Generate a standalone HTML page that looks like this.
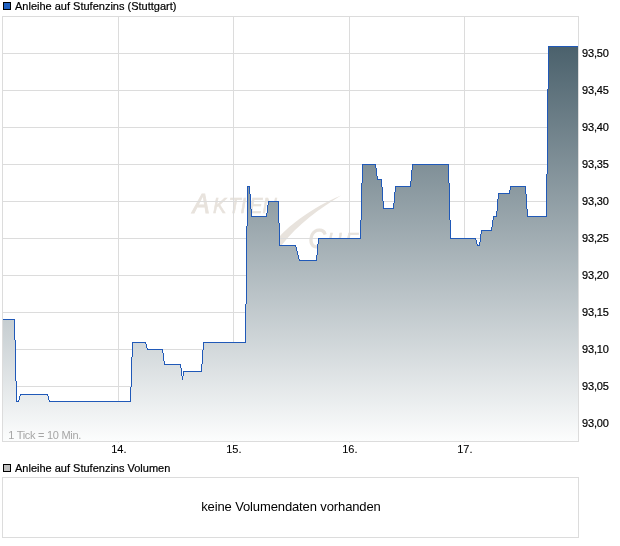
<!DOCTYPE html>
<html lang="de">
<head>
<meta charset="utf-8">
<title>Anleihe auf Stufenzins (Stuttgart)</title>
<style>
html,body{margin:0;padding:0;background:#fff;}
body{width:620px;height:546px;overflow:hidden;}
svg{display:block;}
text{font-family:"Liberation Sans",Arial,Helvetica,sans-serif;font-size:11px;fill:#000;stroke:#000;stroke-width:0.2px;}
.c{shape-rendering:crispEdges;}
</style>
</head>
<body>
<svg width="620" height="546" viewBox="0 0 620 546">
<defs>
<linearGradient id="g" gradientUnits="userSpaceOnUse" x1="0" y1="16" x2="0" y2="441">
<stop offset="0" stop-color="#3d5561"/>
<stop offset="1" stop-color="#fcfdfd"/>
</linearGradient>
</defs>
<rect width="620" height="546" fill="#fff"/>
<!-- legend -->
<rect class="c" x="3.5" y="2.5" width="7" height="7" fill="#2060c0" stroke="#000" stroke-width="1"/>
<text x="15" y="10">Anleihe auf Stufenzins (Stuttgart)</text>
<!-- plot -->
<!-- watermark -->
<g id="wm" fill="#e8e3dd"><text transform="translate(0 213.2) scale(0.9 1)" y="0" style="fill:#e8e3dd;stroke:#e8e3dd;stroke-width:0.6px;font-style:italic;font-size:22.2px"><tspan x="214.2" style="font-size:28.3px;stroke-width:1.0px">A</tspan><tspan x="236.7 254.0 267.3 277.0 291.6">KTIEN</tspan></text><text transform="translate(0 247.5) scale(0.9 1)" y="0" style="fill:#e8e3dd;stroke:#e8e3dd;stroke-width:0.6px;font-style:italic;font-size:22.2px"><tspan x="342.7" style="font-size:26.8px;stroke-width:1.0px">C</tspan><tspan x="363.6 383.6 398.3 414.4">HECK</tspan></text><path stroke="none" d="M262 262C268 250 274 243 279 237.3C290 224.8 312 207.6 341 195.6C320 208.5 298 224 281 246C276 252 270 258 262 262Z"/></g>
<g class="c" fill="#dcdcdc"><rect x="118" y="16" width="1" height="425"/><rect x="233" y="16" width="1" height="425"/><rect x="349" y="16" width="1" height="425"/><rect x="464" y="16" width="1" height="425"/><rect x="2" y="53" width="576" height="1"/><rect x="2" y="90" width="576" height="1"/><rect x="2" y="127" width="576" height="1"/><rect x="2" y="164" width="576" height="1"/><rect x="2" y="201" width="576" height="1"/><rect x="2" y="238" width="576" height="1"/><rect x="2" y="275" width="576" height="1"/><rect x="2" y="312" width="576" height="1"/><rect x="2" y="349" width="576" height="1"/><rect x="2" y="386" width="576" height="1"/><rect x="2" y="423" width="576" height="1"/></g>
<path class="c" d="M3 441L3 319L4 319L4 319L5 319L5 319L6 319L6 319L7 319L7 319L8 319L8 319L9 319L9 319L10 319L10 319L11 319L11 319L12 319L12 319L13 319L13 319L14 319L14 319L15 319L15 340L16 340L16 381L17 381L17 401L18 401L18 400L19 400L19 396L20 396L20 394L21 394L21 394L22 394L22 394L23 394L23 394L24 394L24 394L25 394L25 394L26 394L26 394L27 394L27 394L28 394L28 394L29 394L29 394L30 394L30 394L31 394L31 394L32 394L32 394L33 394L33 394L34 394L34 394L35 394L35 394L36 394L36 394L37 394L37 394L38 394L38 394L39 394L39 394L40 394L40 394L41 394L41 394L42 394L42 394L43 394L43 394L44 394L44 394L45 394L45 394L46 394L46 394L47 394L47 394L48 394L48 396L49 396L49 400L50 400L50 401L51 401L51 401L52 401L52 401L53 401L53 401L54 401L54 401L55 401L55 401L56 401L56 401L57 401L57 401L58 401L58 401L59 401L59 401L60 401L60 401L61 401L61 401L62 401L62 401L63 401L63 401L64 401L64 401L65 401L65 401L66 401L66 401L67 401L67 401L68 401L68 401L69 401L69 401L70 401L70 401L71 401L71 401L72 401L72 401L73 401L73 401L74 401L74 401L75 401L75 401L76 401L76 401L77 401L77 401L78 401L78 401L79 401L79 401L80 401L80 401L81 401L81 401L82 401L82 401L83 401L83 401L84 401L84 401L85 401L85 401L86 401L86 401L87 401L87 401L88 401L88 401L89 401L89 401L90 401L90 401L91 401L91 401L92 401L92 401L93 401L93 401L94 401L94 401L95 401L95 401L96 401L96 401L97 401L97 401L98 401L98 401L99 401L99 401L100 401L100 401L101 401L101 401L102 401L102 401L103 401L103 401L104 401L104 401L105 401L105 401L106 401L106 401L107 401L107 401L108 401L108 401L109 401L109 401L110 401L110 401L111 401L111 401L112 401L112 401L113 401L113 401L114 401L114 401L115 401L115 401L116 401L116 401L117 401L117 401L118 401L118 401L119 401L119 401L120 401L120 401L121 401L121 401L122 401L122 401L123 401L123 401L124 401L124 401L125 401L125 401L126 401L126 401L127 401L127 401L128 401L128 401L129 401L129 401L130 401L130 387L131 387L131 357L132 357L132 342L133 342L133 342L134 342L134 342L135 342L135 342L136 342L136 342L137 342L137 342L138 342L138 342L139 342L139 342L140 342L140 342L141 342L141 342L142 342L142 342L143 342L143 342L144 342L144 342L145 342L145 342L146 342L146 344L147 344L147 348L148 348L148 349L149 349L149 349L150 349L150 349L151 349L151 349L152 349L152 349L153 349L153 349L154 349L154 349L155 349L155 349L156 349L156 349L157 349L157 349L158 349L158 349L159 349L159 349L160 349L160 349L161 349L161 349L162 349L162 349L163 349L163 353L164 353L164 361L165 361L165 364L166 364L166 364L167 364L167 364L168 364L168 364L169 364L169 364L170 364L170 364L171 364L171 364L172 364L172 364L173 364L173 364L174 364L174 364L175 364L175 364L176 364L176 364L177 364L177 364L178 364L178 364L179 364L179 364L180 364L180 364L181 364L181 368L182 368L182 376L183 376L183 371L184 371L184 371L185 371L185 371L186 371L186 371L187 371L187 371L188 371L188 371L189 371L189 371L190 371L190 371L191 371L191 371L192 371L192 371L193 371L193 371L194 371L194 371L195 371L195 371L196 371L196 371L197 371L197 371L198 371L198 371L199 371L199 371L200 371L200 371L201 371L201 364L202 364L202 350L203 350L203 342L204 342L204 342L205 342L205 342L206 342L206 342L207 342L207 342L208 342L208 342L209 342L209 342L210 342L210 342L211 342L211 342L212 342L212 342L213 342L213 342L214 342L214 342L215 342L215 342L216 342L216 342L217 342L217 342L218 342L218 342L219 342L219 342L220 342L220 342L221 342L221 342L222 342L222 342L223 342L223 342L224 342L224 342L225 342L225 342L226 342L226 342L227 342L227 342L228 342L228 342L229 342L229 342L230 342L230 342L231 342L231 342L232 342L232 342L233 342L233 342L234 342L234 342L235 342L235 342L236 342L236 342L237 342L237 342L238 342L238 342L239 342L239 342L240 342L240 342L241 342L241 342L242 342L242 342L243 342L243 342L244 342L244 342L245 342L245 304L246 304L246 226L247 226L247 186L248 186L248 186L249 186L249 186L250 186L250 194L251 194L251 209L252 209L252 216L253 216L253 216L254 216L254 216L255 216L255 216L256 216L256 216L257 216L257 216L258 216L258 216L259 216L259 216L260 216L260 216L261 216L261 216L262 216L262 216L263 216L263 216L264 216L264 216L265 216L265 216L266 216L266 213L267 213L267 205L268 205L268 201L269 201L269 201L270 201L270 201L271 201L271 201L272 201L272 201L273 201L273 201L274 201L274 201L275 201L275 201L276 201L276 201L277 201L277 201L278 201L278 201L279 201L279 223L280 223L280 245L281 245L281 245L282 245L282 245L283 245L283 245L284 245L284 245L285 245L285 245L286 245L286 245L287 245L287 245L288 245L288 245L289 245L289 245L290 245L290 245L291 245L291 245L292 245L292 245L293 245L293 245L294 245L294 245L295 245L295 245L296 245L296 247L297 247L297 251L298 251L298 255L299 255L299 259L300 259L300 260L301 260L301 260L302 260L302 260L303 260L303 260L304 260L304 260L305 260L305 260L306 260L306 260L307 260L307 260L308 260L308 260L309 260L309 260L310 260L310 260L311 260L311 260L312 260L312 260L313 260L313 260L314 260L314 260L315 260L315 260L316 260L316 255L317 255L317 244L318 244L318 238L319 238L319 238L320 238L320 238L321 238L321 238L322 238L322 238L323 238L323 238L324 238L324 238L325 238L325 238L326 238L326 238L327 238L327 238L328 238L328 238L329 238L329 238L330 238L330 238L331 238L331 238L332 238L332 238L333 238L333 238L334 238L334 238L335 238L335 238L336 238L336 238L337 238L337 238L338 238L338 238L339 238L339 238L340 238L340 238L341 238L341 238L342 238L342 238L343 238L343 238L344 238L344 238L345 238L345 238L346 238L346 238L347 238L347 238L348 238L348 238L349 238L349 238L350 238L350 238L351 238L351 238L352 238L352 238L353 238L353 238L354 238L354 238L355 238L355 238L356 238L356 238L357 238L357 238L358 238L358 238L359 238L359 238L360 238L360 220L361 220L361 183L362 183L362 164L363 164L363 164L364 164L364 164L365 164L365 164L366 164L366 164L367 164L367 164L368 164L368 164L369 164L369 164L370 164L370 164L371 164L371 164L372 164L372 164L373 164L373 164L374 164L374 164L375 164L375 164L376 164L376 168L377 168L377 176L378 176L378 179L379 179L379 179L380 179L380 179L381 179L381 179L382 179L382 187L383 187L383 201L384 201L384 208L385 208L385 208L386 208L386 208L387 208L387 208L388 208L388 208L389 208L389 208L390 208L390 208L391 208L391 208L392 208L392 208L393 208L393 203L394 203L394 192L395 192L395 186L396 186L396 186L397 186L397 186L398 186L398 186L399 186L399 186L400 186L400 186L401 186L401 186L402 186L402 186L403 186L403 186L404 186L404 186L405 186L405 186L406 186L406 186L407 186L407 186L408 186L408 186L409 186L409 186L410 186L410 181L411 181L411 170L412 170L412 164L413 164L413 164L414 164L414 164L415 164L415 164L416 164L416 164L417 164L417 164L418 164L418 164L419 164L419 164L420 164L420 164L421 164L421 164L422 164L422 164L423 164L423 164L424 164L424 164L425 164L425 164L426 164L426 164L427 164L427 164L428 164L428 164L429 164L429 164L430 164L430 164L431 164L431 164L432 164L432 164L433 164L433 164L434 164L434 164L435 164L435 164L436 164L436 164L437 164L437 164L438 164L438 164L439 164L439 164L440 164L440 164L441 164L441 164L442 164L442 164L443 164L443 164L444 164L444 164L445 164L445 164L446 164L446 164L447 164L447 164L448 164L448 164L449 164L449 183L450 183L450 220L451 220L451 238L452 238L452 238L453 238L453 238L454 238L454 238L455 238L455 238L456 238L456 238L457 238L457 238L458 238L458 238L459 238L459 238L460 238L460 238L461 238L461 238L462 238L462 238L463 238L463 238L464 238L464 238L465 238L465 238L466 238L466 238L467 238L467 238L468 238L468 238L469 238L469 238L470 238L470 238L471 238L471 238L472 238L472 238L473 238L473 238L474 238L474 238L475 238L475 238L476 238L476 240L477 240L477 244L478 244L478 245L479 245L479 242L480 242L480 234L481 234L481 230L482 230L482 230L483 230L483 230L484 230L484 230L485 230L485 230L486 230L486 230L487 230L487 230L488 230L488 230L489 230L489 230L490 230L490 230L491 230L491 227L492 227L492 220L493 220L493 216L494 216L494 216L495 216L495 216L496 216L496 211L497 211L497 199L498 199L498 193L499 193L499 193L500 193L500 193L501 193L501 193L502 193L502 193L503 193L503 193L504 193L504 193L505 193L505 193L506 193L506 193L507 193L507 193L508 193L508 193L509 193L509 190L510 190L510 186L511 186L511 186L512 186L512 186L513 186L513 186L514 186L514 186L515 186L515 186L516 186L516 186L517 186L517 186L518 186L518 186L519 186L519 186L520 186L520 186L521 186L521 186L522 186L522 186L523 186L523 186L524 186L524 186L525 186L525 186L526 186L526 194L527 194L527 209L528 209L528 216L529 216L529 216L530 216L530 216L531 216L531 216L532 216L532 216L533 216L533 216L534 216L534 216L535 216L535 216L536 216L536 216L537 216L537 216L538 216L538 216L539 216L539 216L540 216L540 216L541 216L541 216L542 216L542 216L543 216L543 216L544 216L544 216L545 216L545 216L546 216L546 174L547 174L547 89L548 89L548 46L549 46L549 46L550 46L550 46L551 46L551 46L552 46L552 46L553 46L553 46L554 46L554 46L555 46L555 46L556 46L556 46L557 46L557 46L558 46L558 46L559 46L559 46L560 46L560 46L561 46L561 46L562 46L562 46L563 46L563 46L564 46L564 46L565 46L565 46L566 46L566 46L567 46L567 46L568 46L568 46L569 46L569 46L570 46L570 46L571 46L571 46L572 46L572 46L573 46L573 46L574 46L574 46L575 46L575 46L576 46L576 46L577 46L577 46L578 46L578 441Z" fill="url(#g)"/>
<path class="c" d="M246 226h1v78h-1zM547 89h1v85h-1zM245 304h1v39h-1zM526 194h1v15h-1zM546 174h1v43h-1zM267 205h1v8h-1zM382 187h1v14h-1zM496 211h1v6h-1zM278 201h1v22h-1zM249 186h1v8h-1zM449 183h1v37h-1zM479 242h1v4h-1zM548 46h1v43h-1zM15 340h1v41h-1zM375 164h1v4h-1zM251 209h1v8h-1zM525 186h1v8h-1zM412 164h1v6h-1zM202 350h1v14h-1zM381 179h1v8h-1zM247 186h1v40h-1zM201 364h1v8h-1zM362 164h1v19h-1zM48 396h1v4h-1zM163 353h1v8h-1zM296 247h1v4h-1zM395 186h1v6h-1zM360 220h1v19h-1zM361 183h1v37h-1zM298 255h1v4h-1zM377 176h1v4h-1zM132 342h1v15h-1zM411 170h1v11h-1zM131 357h1v30h-1zM383 201h1v8h-1zM266 213h1v4h-1zM250 194h1v15h-1zM450 220h1v19h-1zM497 199h1v12h-1zM318 238h1v6h-1zM480 234h1v8h-1zM130 387h1v15h-1zM317 244h1v11h-1zM509 190h1v4h-1zM279 223h1v23h-1zM527 209h1v8h-1zM180 364h1v4h-1zM448 164h1v19h-1zM492 220h1v7h-1zM14 319h1v21h-1zM477 244h1v2h-1zM146 344h1v4h-1zM376 168h1v8h-1zM16 381h1v21h-1zM268 201h1v4h-1zM394 192h1v11h-1zM316 255h1v6h-1zM393 203h1v6h-1zM145 342h1v2h-1zM510 186h1v4h-1zM299 259h1v2h-1zM498 193h1v6h-1zM203 342h1v8h-1zM475 238h1v2h-1zM183 371h1v5h-1zM181 368h1v8h-1zM493 216h1v4h-1zM410 181h1v6h-1zM20 394h1v2h-1zM19 396h1v4h-1zM147 348h1v2h-1zM481 230h1v4h-1zM476 240h1v4h-1zM297 251h1v4h-1zM491 227h1v4h-1zM47 394h1v2h-1zM162 349h1v4h-1zM164 361h1v4h-1zM18 400h1v2h-1zM182 376h1v4h-1zM49 400h1v2h-1zM295 245h1v2h-1zM3 319h11v1h-11zM133 342h12v1h-12zM204 342h41v1h-41zM17 401h1v1h-1zM50 401h80v1h-80zM184 371h17v1h-17zM252 216h14v1h-14zM494 216h2v1h-2zM528 216h18v1h-18zM384 208h9v1h-9zM499 193h10v1h-10zM21 394h26v1h-26zM165 364h15v1h-15zM319 238h41v1h-41zM451 238h24v1h-24zM363 164h12v1h-12zM413 164h35v1h-35zM549 46h29v1h-29zM248 186h1v1h-1zM396 186h14v1h-14zM511 186h14v1h-14zM300 260h16v1h-16zM280 245h15v1h-15zM478 245h1v1h-1zM269 201h9v1h-9zM148 349h14v1h-14zM482 230h9v1h-9zM378 179h3v1h-3z" fill="#2059b8"/>
<rect class="c" x="2.5" y="16.5" width="576" height="425" fill="none" stroke="#dcdcdc" stroke-width="1"/>
<text x="8.3" y="439" textLength="73" lengthAdjust="spacing" style="fill:#a6a6a6;stroke:none">1 Tick = 10 Min.</text>
<g><text x="582" y="57" textLength="26.9" lengthAdjust="spacing">93,50</text><text x="582" y="94" textLength="26.9" lengthAdjust="spacing">93,45</text><text x="582" y="131" textLength="26.9" lengthAdjust="spacing">93,40</text><text x="582" y="168" textLength="26.9" lengthAdjust="spacing">93,35</text><text x="582" y="205" textLength="26.9" lengthAdjust="spacing">93,30</text><text x="582" y="242" textLength="26.9" lengthAdjust="spacing">93,25</text><text x="582" y="279" textLength="26.9" lengthAdjust="spacing">93,20</text><text x="582" y="316" textLength="26.9" lengthAdjust="spacing">93,15</text><text x="582" y="353" textLength="26.9" lengthAdjust="spacing">93,10</text><text x="582" y="390" textLength="26.9" lengthAdjust="spacing">93,05</text><text x="582" y="427" textLength="26.9" lengthAdjust="spacing">93,00</text></g>
<g class="c" fill="#eaeaea"><rect x="118" y="442" width="1" height="1"/><rect x="233" y="442" width="1" height="1"/><rect x="349" y="442" width="1" height="1"/><rect x="464" y="442" width="1" height="1"/></g>
<g><text x="118.8" y="453" text-anchor="middle" style="stroke-width:0.08px">14.</text><text x="233.8" y="453" text-anchor="middle" style="stroke-width:0.08px">15.</text><text x="349.8" y="453" text-anchor="middle" style="stroke-width:0.08px">16.</text><text x="464.8" y="453" text-anchor="middle" style="stroke-width:0.08px">17.</text></g>
<!-- volume -->
<rect class="c" x="3.5" y="464.5" width="7" height="7" fill="#c0c0c0" stroke="#000" stroke-width="1"/>
<text x="15" y="472">Anleihe auf Stufenzins Volumen</text>
<rect class="c" x="2.5" y="477.5" width="576" height="60" fill="#fff" stroke="#dcdcdc" stroke-width="1"/>
<text x="201.2" y="511.4" textLength="179.6" lengthAdjust="spacing" style="font-size:13px;stroke:none">keine Volumendaten vorhanden</text>
</svg>
</body>
</html>
